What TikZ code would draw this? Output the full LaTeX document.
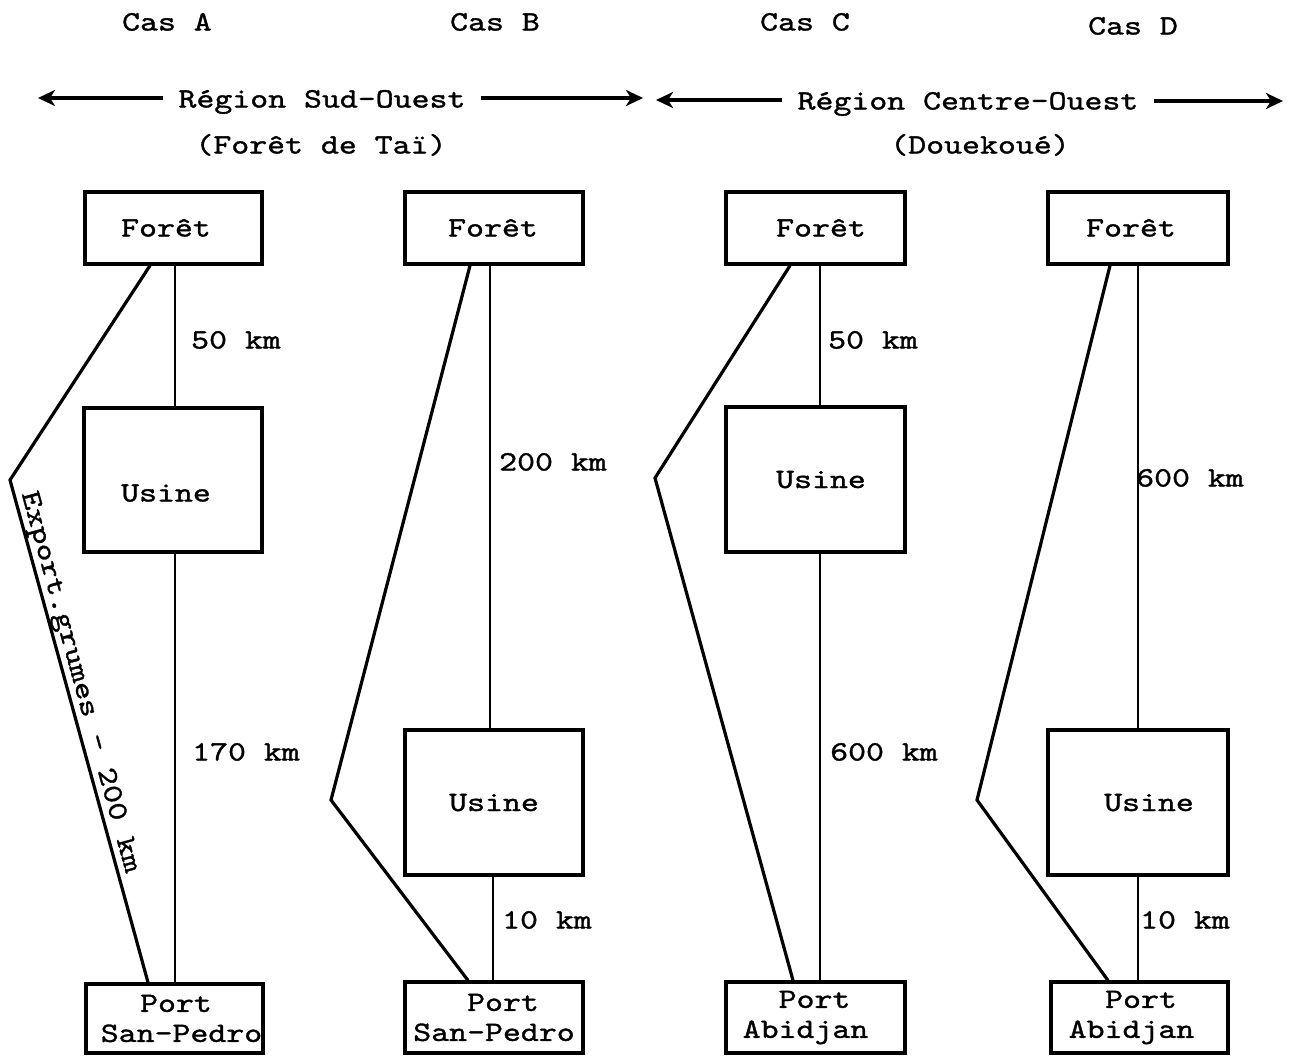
\documentclass[tikz,border=0pt]{standalone}
\usepackage{fontspec}
\usetikzlibrary{arrows.meta}
% typewriter face, widened to a 10-pitch look
\newfontfamily\tw{lmmono10-regular}[Extension=.otf, FakeStretch=1.22, FakeBold=1.2]
\newcommand\twtext{\tw\fontsize{28}{30}\selectfont}
% shift a typed word sideways by half the given amount inside its box
\newcommand\nudge[2]{\hspace*{#1}#2}

\begin{document}
\begin{tikzpicture}[x=1pt,y=-1pt,
  lbl/.style={inner sep=0pt, font=\twtext, text height=17pt, text depth=0pt},
  region/.style={lbl, inner xsep=15pt},
  box/.style={draw, line width=3.2pt, inner sep=0pt, font=\twtext,
              text height=17pt, text depth=0pt},
  portbox/.style={draw, line width=3.2pt, inner sep=0pt, font=\twtext, align=center},
  lnk/.style={line width=2.8pt},
  slant/.style={line width=3.2pt},
  arr/.style={line width=3.4pt, -{Stealth[length=17pt,width=16pt,inset=5pt]}}]
\useasboundingbox (0,0) rectangle (1290,1055);

% case headings
\node[lbl] (casA) at (167,22) {Cas A};
\node[lbl] (casB) at (495,22) {Cas B};
\node[lbl] (casC) at (805,22) {Cas C};
\node[lbl] (casD) at (1133,26) {Cas D};

% regions
\node[region] (rSO) at (322,99) {Région Sud-Ouest};
\node[lbl] (sSO) at (321,145) {(Forêt de Taï)};
\node[region] (rCO) at (968,101) {Région Centre-Ouest};
\node[lbl] (sCO) at (980,145) {(Douekoué)};

\coordinate (tSOl) at (38,98);
\coordinate (tSOr) at (643,98);
\coordinate (tCOl) at (656,100);
\coordinate (tCOr) at (1283,101);
\draw[arr] (rSO.west |- tSOl) -- (tSOl);
\draw[arr] (rSO.east |- tSOr) -- (tSOr);
\draw[arr] (rCO.west |- tCOl) -- (tCOl);
\draw[arr] (rCO.east |- tCOr) -- (tCOr);

% Cas A
\node[box, minimum width=177pt, minimum height=72pt] (fA) at (173.5,228) {\nudge{-15pt}{Forêt}};
\node[box, minimum width=178pt, minimum height=144pt, text height=43pt] (uA) at (173,480) {\nudge{-14pt}{Usine}};
\node[portbox, minimum width=177pt, minimum height=69pt] (pA) at (174.5,1018.5)
  {\nudge{3pt}{Port}\\\nudge{14pt}{San-Pedro}};
\coordinate (vA) at (175,0);
\coordinate (kA) at (10,480);
\draw[lnk] (fA.south -| vA) -- (uA.north -| vA);
\draw[lnk] (uA.south -| vA) -- (pA.north -| vA);
\draw[slant] ([xshift=-23.5pt]fA.south) -- (kA)
  -- node[lbl, sloped, above, pos=0.41, inner sep=0pt, text depth=6pt] (exA) {Export.grumes - 200 km}
  ([xshift=-26.5pt]pA.north);
\node[lbl] (dA1) at (236,340) {50 km};
\node[lbl] (dA2) at (246,752) {170 km};

% Cas B
\node[box, minimum width=178pt, minimum height=72pt] (fB) at (494,228) {\nudge{-2pt}{Forêt}};
\node[box, minimum width=178pt, minimum height=145pt] (uB) at (494,802.5) {Usine};
\node[portbox, minimum width=178pt, minimum height=71pt] (pB) at (494,1017.5)
  {\nudge{18pt}{Port}\\San-Pedro};
\coordinate (vB1) at (490,0);
\coordinate (vB2) at (493,0);
\coordinate (kB) at (331,800);
\draw[lnk] (fB.south -| vB1) -- (uB.north -| vB1);
\draw[lnk] (uB.south -| vB2) -- (pB.north -| vB2);
\draw[slant] ([xshift=-24pt]fB.south) -- (kB) -- ([xshift=-26pt]pB.north);
\node[lbl] (dB1) at (553,462) {200 km};
\node[lbl] (dB2) at (547,920) {10 km};

% Cas C
\node[box, minimum width=179pt, minimum height=72pt] (fC) at (815.5,228) {\nudge{11pt}{Forêt}};
\node[box, minimum width=179pt, minimum height=145pt] (uC) at (815.5,479.5) {\nudge{11pt}{Usine}};
\node[portbox, minimum width=179pt, minimum height=71pt] (pC) at (815.5,1017.5)
  {\nudge{-2pt}{Port}\\\nudge{-20pt}{Abidjan}};
\coordinate (vC) at (820,0);
\coordinate (kC) at (655,478);
\draw[lnk] (fC.south -| vC) -- (uC.north -| vC);
\draw[lnk] (uC.south -| vC) -- (pC.north -| vC);
\draw[slant] ([xshift=-25.5pt]fC.south) -- (kC) -- ([xshift=-22.5pt]pC.north);
\node[lbl] (dC1) at (873,340) {50 km};
\node[lbl] (dC2) at (884,752) {600 km};

% Cas D
\node[box, minimum width=180pt, minimum height=72pt] (fD) at (1138,228) {\nudge{-14pt}{Forêt}};
\node[box, minimum width=180pt, minimum height=145pt] (uD) at (1138,802.5) {\nudge{22pt}{Usine}};
\node[portbox, minimum width=177pt, minimum height=71pt] (pD) at (1139.5,1017.5)
  {\nudge{3pt}{Port}\\\nudge{-16pt}{Abidjan}};
\coordinate (vD) at (1138,0);
\coordinate (kD) at (977,800);
\draw[lnk] (fD.south -| vD) -- (uD.north -| vD);
\draw[lnk] (uD.south -| vD) -- (pD.north -| vD);
\draw[slant] ([xshift=-28pt]fD.south) -- (kD) -- ([xshift=-31.5pt]pD.north);
\node[lbl] (dD1) at (1190,478) {600 km};
\node[lbl] (dD2) at (1185,920) {10 km};
\end{tikzpicture}
\end{document}
